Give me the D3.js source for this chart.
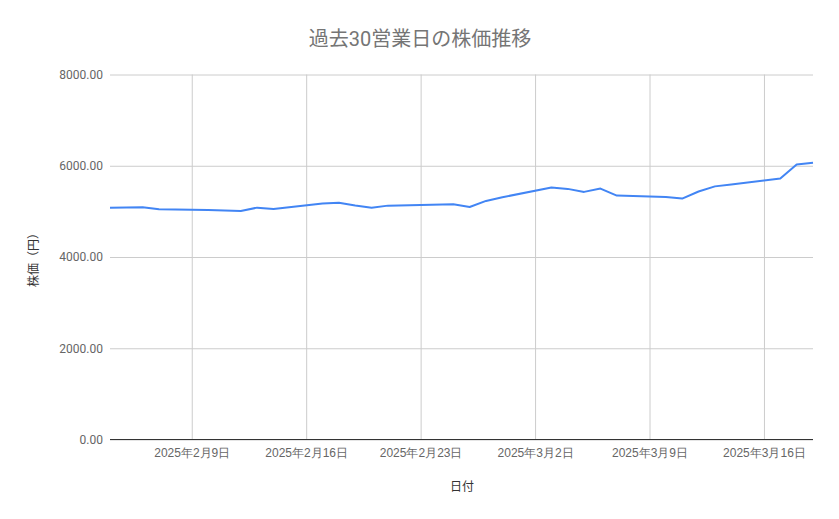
<!DOCTYPE html>
<html>
<head>
<meta charset="utf-8">
<script src="https://cdn.jsdelivr.net/npm/d3@7"></script>
<style>
  body { margin: 0; background: #fff; }
  svg { display: block; font-family: Roboto, "Noto Sans CJK JP", sans-serif; }
</style>
</head>
<body>
<svg id="chart" width="839" height="519"></svg>
<script>
// --- data ---
var dates = [
  '2025-02-04', '2025-02-05', '2025-02-06', '2025-02-07',
  '2025-02-10', '2025-02-12', '2025-02-13', '2025-02-14',
  '2025-02-17', '2025-02-18', '2025-02-19', '2025-02-20', '2025-02-21',
  '2025-02-25', '2025-02-26', '2025-02-27', '2025-02-28',
  '2025-03-03', '2025-03-04', '2025-03-05', '2025-03-06', '2025-03-07',
  '2025-03-10', '2025-03-11', '2025-03-12', '2025-03-13', '2025-03-14',
  '2025-03-17', '2025-03-18', '2025-03-19'
];
var prices = [
  5082, 5085, 5088, 5047,
  5030, 5010, 5082, 5054,
  5170, 5190, 5130, 5082, 5126,
  5156, 5097, 5229, 5310,
  5525, 5493, 5427, 5500, 5346,
  5315, 5280, 5435, 5548, 5590,
  5719, 6026, 6065
];
var yTicks = [0, 2000, 4000, 6000, 8000];
var xTickDates = ['2025-02-09', '2025-02-16', '2025-02-23', '2025-03-02', '2025-03-09', '2025-03-16'];

var chartTitle = '過去30営業日の株価推移';
var xTitle = '日付';
var yTitle = '株価（円）';

(function() {
  // --- layout (plot area edges) ---
  var svg = d3.select('#chart');
  var plotLeft = 110, plotRight = 813, plotTop = 74.5, plotBottom = 439.5;

  var parse = d3.timeParse('%Y-%m-%d');
  var points = dates.map(function(d, i) { return { date: parse(d), value: prices[i] }; });

  var x = d3.scaleTime()
    .domain([parse(dates[0]), parse(dates[dates.length - 1])])
    .range([plotLeft, plotRight]);
  var y = d3.scaleLinear().domain([0, 8000]).range([plotBottom, plotTop]);

  function jpDate(d) {
    return d.getFullYear() + '年' + (d.getMonth() + 1) + '月' + d.getDate() + '日';
  }

  // title
  svg.append('text')
    .attr('x', 420).attr('y', 46)
    .attr('text-anchor', 'middle')
    .attr('font-size', 20)
    .attr('fill', '#757575')
    .text(chartTitle);

  // horizontal gridlines + y labels
  var yAxis = d3.axisLeft(y)
    .tickValues(yTicks)
    .tickSize(-(plotRight - plotLeft))
    .tickPadding(7)
    .tickFormat(d3.format('.2f'));

  var gy = svg.append('g')
    .attr('transform', 'translate(' + plotLeft + ',0)')
    .call(yAxis);
  gy.select('.domain').remove();
  gy.selectAll('.tick line').attr('stroke', '#cccccc').attr('stroke-width', 1);
  gy.selectAll('.tick text')
    .attr('font-family', 'Roboto, sans-serif')
    .attr('font-size', 12)
    .attr('fill', '#666666');

  // vertical gridlines + date labels
  var xAxis = d3.axisBottom(x)
    .tickValues(xTickDates.map(parse))
    .tickSize(-(plotBottom - plotTop))
    .tickPadding(9)
    .tickFormat(jpDate);

  var gx = svg.append('g')
    .attr('transform', 'translate(0,' + plotBottom + ')')
    .call(xAxis);
  gx.select('.domain').remove();
  gx.selectAll('.tick line').attr('stroke', '#cccccc').attr('stroke-width', 1);
  gx.selectAll('.tick text')
    .attr('font-size', 12)
    .attr('fill', '#666666');

  // baseline
  svg.append('line')
    .attr('x1', plotLeft).attr('x2', plotRight)
    .attr('y1', y(0)).attr('y2', y(0))
    .attr('stroke', '#333333')
    .attr('stroke-width', 1);

  // price line
  var line = d3.line()
    .x(function(d) { return x(d.date); })
    .y(function(d) { return y(d.value); });

  svg.append('path')
    .datum(points)
    .attr('d', line)
    .attr('fill', 'none')
    .attr('stroke', '#4285f4')
    .attr('stroke-width', 2)
    .attr('stroke-linejoin', 'round');

  // axis titles
  svg.append('text')
    .attr('x', 462).attr('y', 491)
    .attr('text-anchor', 'middle')
    .attr('font-size', 12)
    .attr('fill', '#333333')
    .text(xTitle);

  svg.append('text')
    .attr('transform', 'translate(38,257) rotate(-90)')
    .attr('text-anchor', 'middle')
    .attr('font-size', 12)
    .attr('fill', '#333333')
    .text(yTitle);
})();
</script>
</body>
</html>
